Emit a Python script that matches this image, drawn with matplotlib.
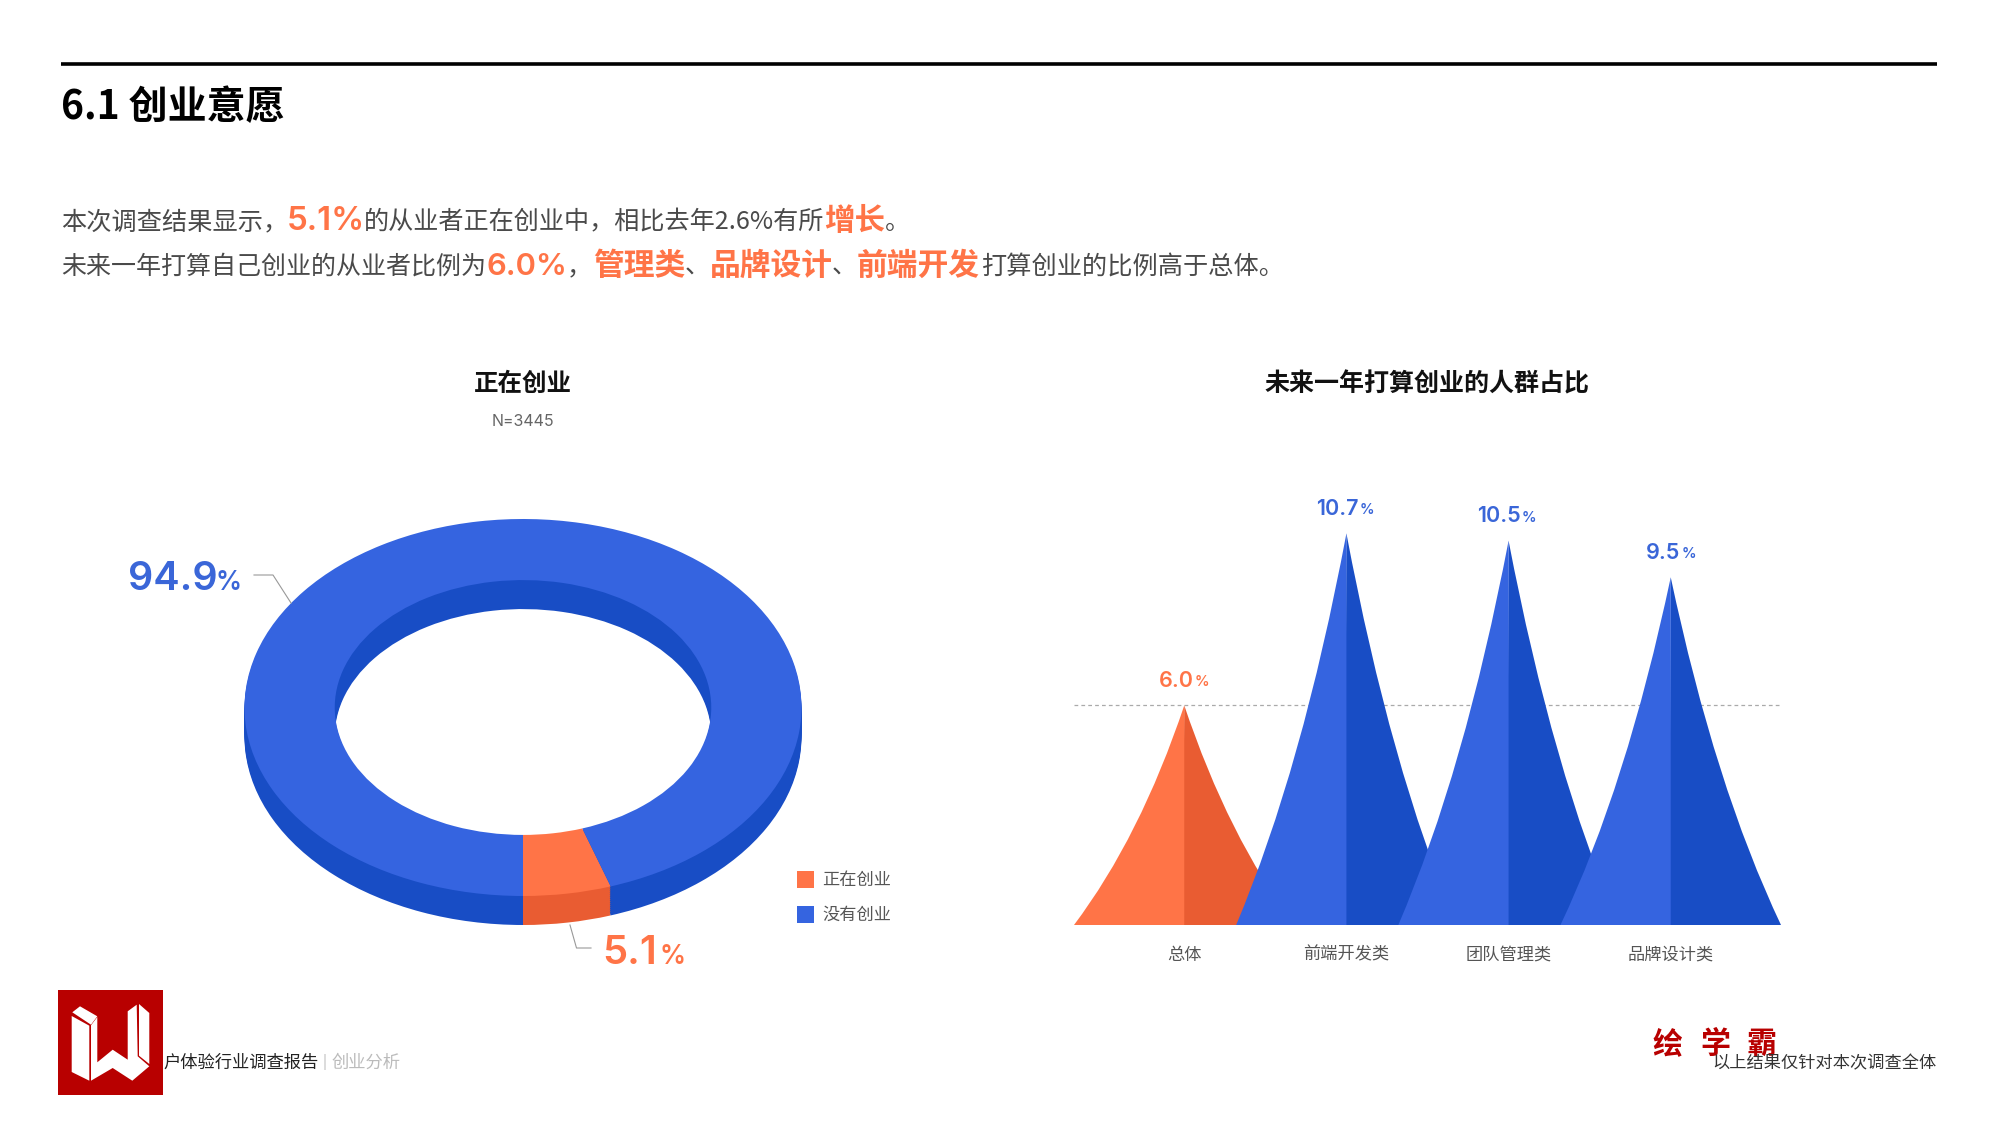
import matplotlib
matplotlib.use('Agg')
import matplotlib.pyplot as plt
from matplotlib.path import Path
from matplotlib.patches import PathPatch, Polygon, Rectangle

CJK = ['Noto Sans CJK SC', 'DejaVu Sans']
LATIN = ['Inter', 'Noto Sans CJK SC', 'DejaVu Sans']
plt.rcParams['font.family'] = CJK

# Data
ring_labels = ['正在创业', '没有创业']
ring_values = [5.1, 94.9]
peak_labels = ['总体', '前端开发类', '团队管理类', '品牌设计类']
peak_values = [6.0, 10.7, 10.5, 9.5]

ORANGE = '#FF7447'
ORANGE_DARK = '#E95C32'
BLUE = '#3564E0'
BLUE_DARK = '#184DC5'
TEXT_BLUE = '#3A66D8'

W, H = 2000, 1135


def axes_px(left, top, right, bottom):
    # axes placed by reference pixels
    return fig.add_axes([left / W, 1 - bottom / H, (right - left) / W, (bottom - top) / H])


fig = plt.figure(figsize=(W / 100, H / 100), dpi=100, facecolor='white')

# %%
# overlay in pixel coordinates for the page furniture
page = fig.add_axes([0, 0, 1, 1], zorder=5)
page.set_xlim(0, W)
page.set_ylim(H, 0)
page.axis('off')
page.patch.set_alpha(0)


def put(x, y, s, px, color='#4A4A4A', weight='normal', ha='left', family=CJK):
    page.text(x, y, s, fontsize=px * 0.72, color=color, fontweight=weight, ha=ha, va='center', family=family)


page.plot([61, 1937], [64, 64], color='black', lw=2.6, solid_capstyle='butt')
put(61, 108, '6.1 创业意愿', 39, color='black', weight='bold')

put(61, 222, '本次调查结果显示，', 25.2)
put(287, 222, '5.1%', 33, color=ORANGE, weight='semibold', family=LATIN)
put(364, 222, '的从业者正在创业中，相比去年2.6%有所', 25.15)
put(824, 221, '增长', 30.5, color=ORANGE, weight='bold')
put(885, 222, '。', 25.2)

put(61, 267, '未来一年打算自己创业的从业者比例为', 25)
put(487, 267, '6.0%', 31, color=ORANGE, weight='semibold', family=LATIN)
put(567, 267, '，', 25.2)
put(593, 266, '管理类', 30.8, color=ORANGE, weight='bold')
put(685, 267, '、', 25.2)
put(710, 266, '品牌设计', 30.8, color=ORANGE, weight='bold')
put(832, 267, '、', 25.2)
put(857, 266, '前端开发', 30.8, color=ORANGE, weight='bold')
put(981, 267, '打算创业的比例高于总体。', 25.2)

put(523, 384, '正在创业', 24.5, color='#111111', weight='bold', ha='center')
put(523, 422, 'N=3445', 16, color='#666666', ha='center', family=LATIN)
put(1427, 384, '未来一年打算创业的人群占比', 25, color='#111111', weight='bold', ha='center')

# %%
# Ring, extruded by stacking the same pie downwards
RX, RY, DEPTH = 278.5, 188.5, 29
CX, CY = 523, 707.5
ring = axes_px(CX - 1.05 * RX, CY - 1.05 * RY, CX + 1.05 * RX, CY + 1.05 * RY + DEPTH)
steps = 15
for i in range(steps, 0, -1):
    ring.pie(ring_values, colors=[ORANGE_DARK, BLUE_DARK], startangle=-90, radius=1,
             center=(0, -DEPTH / RY * i / steps), wedgeprops=dict(width=0.324, linewidth=0))
ring.pie(ring_values, colors=[ORANGE, BLUE], startangle=-90, radius=1,
         wedgeprops=dict(width=0.324, linewidth=0))
ring.set_aspect('auto')
ring.set_xlim(-1.05, 1.05)
ring.set_ylim(-1.05 - DEPTH / RY, 1.05)

# ring callouts
page.plot([254, 273, 291], [575, 575, 603], color='#999999', lw=0.8)
page.plot([570, 576.5, 591], [925, 948, 948], color='#999999', lw=0.8)
put(128, 580, '94.9', 39.5, color=TEXT_BLUE, weight='semibold', family=LATIN)
put(216, 583, '%', 26, color=TEXT_BLUE, weight='semibold', family=LATIN)
put(602, 954, '5.1', 40, color=ORANGE, weight='semibold', family=LATIN)
put(659, 957, '%', 26, color=ORANGE, weight='semibold', family=LATIN)

# legend
for y, label, colour in zip([879, 914], ring_labels, [ORANGE, BLUE]):
    page.add_patch(Rectangle((797, y - 8.5), 17, 17, color=colour, lw=0))
    put(822, y + 1, label, 17.2, color='#555555')

# %%
# Peaks
HALF = 0.68
UNIT_PX = 36.6
peak_x = list(range(len(peak_values)))
bars = axes_px(1074, 925 - 12 * UNIT_PX, 1781, 925)
bars.set_xlim(-HALF, 3 + HALF)
bars.set_ylim(0, 12)
bars.patch.set_alpha(0)
for side in bars.spines.values():
    side.set_visible(False)
bars.set_yticks([])
bars.set_xticks(peak_x)
bars.set_xticklabels(peak_labels, fontsize=17.2 * 0.72, color='#555555')
bars.tick_params(axis='x', length=0, pad=15)

for x, v, label in zip(peak_x, peak_values, peak_labels):
    light, dark = (ORANGE, ORANGE_DARK) if label == '总体' else (BLUE, BLUE_DARK)
    # curved flank, bends inwards towards the tip
    left = Path([(x - HALF, 0), (x - HALF * 0.4, v * 0.4), (x, v), (x, 0), (x - HALF, 0)],
                [Path.MOVETO, Path.CURVE3, Path.CURVE3, Path.LINETO, Path.CLOSEPOLY])
    # right half runs a hair under the left one so no seam shows
    right = Path([(x + HALF, 0), (x + HALF * 0.4, v * 0.4), (x, v), (x - 0.01, 0), (x + HALF, 0)],
                 [Path.MOVETO, Path.CURVE3, Path.CURVE3, Path.LINETO, Path.CLOSEPOLY])
    bars.add_patch(PathPatch(right, facecolor=dark, lw=0))
    bars.add_patch(PathPatch(left, facecolor=light, lw=0))
    colour = ORANGE if label == '总体' else TEXT_BLUE
    off = 9 if v >= 10 else 7  # number + % sit centred over the tip
    bars.annotate(f'{v:.1f}', (x, v), xytext=(off, 17.5), textcoords='offset points', ha='right', va='center',
                  fontsize=15.5, fontweight='semibold', color=colour, family=LATIN)
    bars.annotate('%', (x, v), xytext=(off + 0.6, 16.5), textcoords='offset points', ha='left', va='center',
                  fontsize=10.5, fontweight='semibold', color=colour, family=LATIN)

bars.axhline(peak_values[0], color='#aaaaaa', lw=0.9, ls=(0, (3, 2.5)), zorder=0)

# %%
# Footer
page.add_patch(Rectangle((58, 990), 105, 105, color='#B80000', lw=0))
put(163.5, 1063, '户体验行业调查报告', 17.3, color='#222222')
put(323, 1062, '|', 15, color='#BBBBBB')
put(332, 1063, '创业分析', 17.3, color='#BBBBBB')
for x, ch in zip([1652, 1700, 1747], '绘学霸'):
    put(x, 1044, ch, 30, color='#B80000', weight='bold')
put(1937, 1063, '以上结果仅针对本次调查全体', 17.2, color='#333333', ha='right')

# logo mark
page.add_patch(Polygon([(71.7, 1016), (89.3, 1025.7), (89.3, 1080.7), (71.7, 1072)], color='white', lw=0))
page.add_patch(Polygon([(72.3, 1012.3), (80, 1006.3), (97.3, 1016.3), (91, 1024.7)], color='white', lw=0))
page.add_patch(Polygon([(91, 1025.3), (97.3, 1017), (97.3, 1062.3), (112.7, 1049.7), (127.7, 1059.7),
                        (127.7, 1011.3), (136.7, 1004.7), (137.7, 1056.3), (149.3, 1066.3), (132.3, 1080.7),
                        (112.7, 1068), (91, 1080.7)], color='white', lw=0))
page.add_patch(Polygon([(139, 1004), (149.3, 1013), (149.3, 1064), (139, 1055.7)], color='white', lw=0))

fig.savefig('out.png', dpi=100, facecolor='white')
